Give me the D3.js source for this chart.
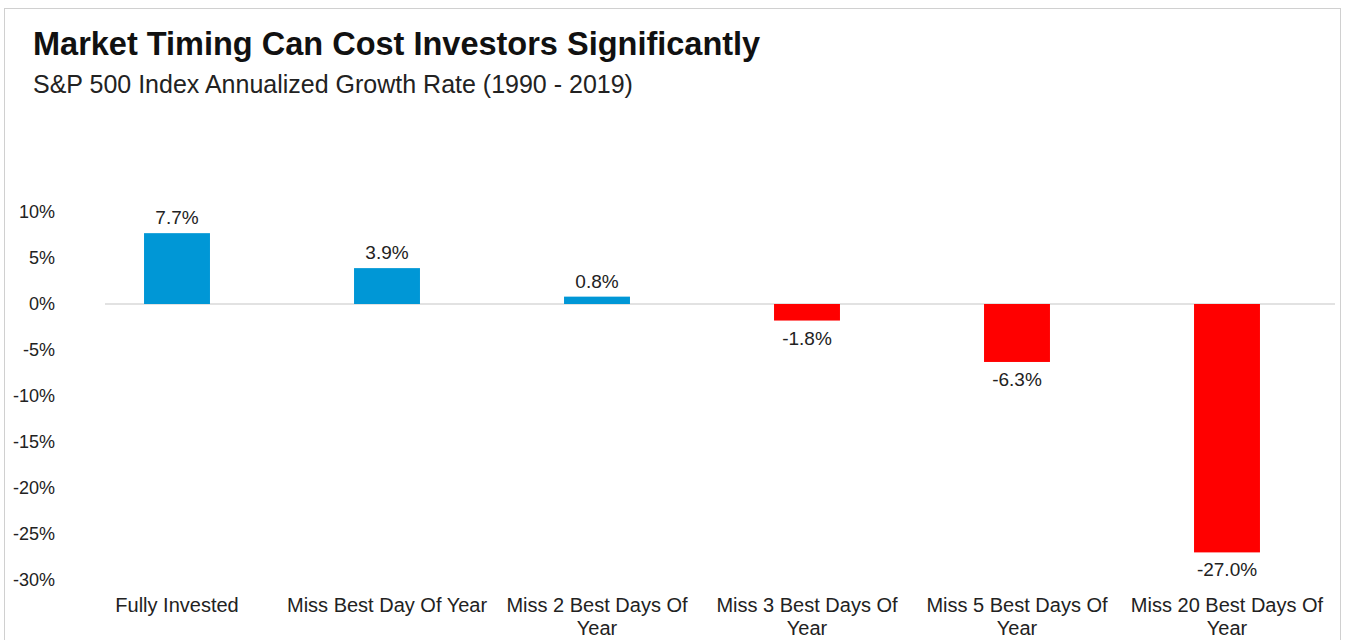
<!DOCTYPE html>
<html>
<head>
<meta charset="utf-8">
<script src="https://cdn.jsdelivr.net/npm/d3@7"></script>
<style>
  body { margin: 0; background: #fff; }
  svg { display: block; font-family: "Liberation Sans", Arial, sans-serif; }
</style>
</head>
<body>
<div id="chart"></div>
<script>
// 数据
const categories = ['Fully Invested', 'Miss Best Day Of Year', 'Miss 2 Best Days Of Year',
  'Miss 3 Best Days Of Year', 'Miss 5 Best Days Of Year', 'Miss 20 Best Days Of Year']
const growth = [7.7, 3.9, 0.8, -1.8, -6.3, -27.0]
const yTicks = [10, 5, 0, -5, -10, -15, -20, -25, -30]

const width = 1357
const height = 640
const svg = d3.select('#chart').append('svg')
  .attr('width', width)
  .attr('height', height)

// 外框
svg.append('rect')
  .attr('x', 4.5).attr('y', 8.5)
  .attr('width', 1336).attr('height', 660)
  .attr('fill', 'none')
  .attr('stroke', '#d0d0d0')

// 标题
svg.append('text')
  .attr('x', 33).attr('y', 55)
  .attr('font-size', 32.5)
  .attr('font-weight', 'bold')
  .attr('fill', '#111')
  .text('Market Timing Can Cost Investors Significantly')
svg.append('text')
  .attr('x', 33).attr('y', 93)
  .attr('font-size', 25)
  .attr('fill', '#222')
  .text('S&P 500 Index Annualized Growth Rate (1990 - 2019)')

// 比例尺
const x = d3.scaleBand()
  .domain(categories)
  .range([72, 1332])
  .paddingInner(0.686)
  .paddingOuter(0.343)
const y = d3.scaleLinear()
  .domain([-30, 10])
  .range([580, 212])

// y轴
const yAxis = svg.append('g')
  .attr('transform', 'translate(55,0)')
  .call(d3.axisLeft(y).tickValues(yTicks).tickSize(0).tickPadding(0).tickFormat(d => d + '%'))
yAxis.select('.domain').remove()
yAxis.selectAll('text')
  .attr('font-size', 18)
  .attr('font-family', '"Liberation Sans", Arial, sans-serif')
  .attr('fill', '#222')

// 零线
svg.append('line')
  .attr('x1', 105).attr('x2', 1335)
  .attr('y1', y(0)).attr('y2', y(0))
  .attr('stroke', '#d9d9d9')
  .attr('stroke-width', 1.5)

// 柱子
svg.selectAll('.bar')
  .data(growth)
  .enter().append('rect')
  .attr('class', 'bar')
  .attr('x', (d, i) => x(categories[i]))
  .attr('width', x.bandwidth())
  .attr('y', d => y(Math.max(0, d)))
  .attr('height', d => Math.abs(y(d) - y(0)))
  .attr('fill', d => d >= 0 ? '#0097d6' : '#ff0000')

// 数值标签
svg.selectAll('.val')
  .data(growth)
  .enter().append('text')
  .attr('class', 'val')
  .attr('x', (d, i) => x(categories[i]) + x.bandwidth() / 2)
  .attr('y', d => d >= 0 ? y(d) - 9 : y(d) + 24)
  .attr('text-anchor', 'middle')
  .attr('font-size', 19)
  .attr('fill', '#222')
  .text(d => d.toFixed(1) + '%')

// 类别标签（换行）
const catG = svg.selectAll('.cat')
  .data(categories)
  .enter().append('text')
  .attr('class', 'cat')
  .attr('text-anchor', 'middle')
  .attr('font-size', 20)
  .attr('fill', '#222')
  .attr('transform', d => `translate(${x(d) + x.bandwidth() / 2},612)`)
catG.each(function (d) {
  const el = d3.select(this)
  const words = d.split(' ')
  let line = []
  let tspan = el.append('tspan').attr('x', 0).attr('dy', 0)
  words.forEach(w => {
    line.push(w)
    tspan.text(line.join(' '))
    if (tspan.node().getComputedTextLength() > 206 && line.length > 1) {
      line.pop()
      tspan.text(line.join(' '))
      line = [w]
      tspan = el.append('tspan').attr('x', 0).attr('dy', 23).text(w)
    }
  })
})
</script>
</body>
</html>
